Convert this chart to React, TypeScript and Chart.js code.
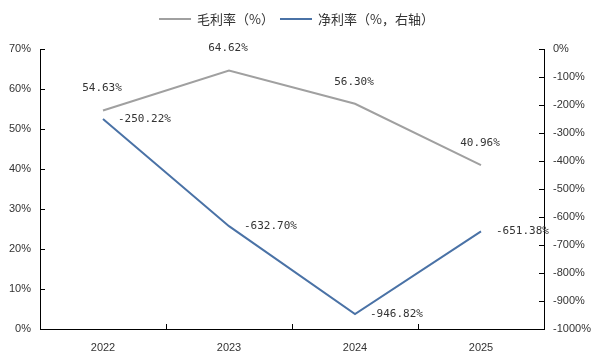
import React, { useEffect, useRef } from "react";
import { Chart, registerables } from "chart.js";

Chart.register(...registerables);

const categories = ["2022", "2023", "2024", "2025"];
const grossMargin = [54.63, 64.62, 56.3, 40.96];
const netMargin = [-250.22, -632.7, -946.82, -651.38];
const seriesNames = ["毛利率（%）", "净利率（%，右轴）"];
const seriesColors = ["#a0a0a0", "#4a72a6"];

const tickFont = { family: "'Liberation Sans', Arial, sans-serif", size: 11 };
const labelFontCss = "11px 'DejaVu Sans Mono', monospace";
const legendFontCss = "13px 'Noto Sans CJK SC', sans-serif";

const inwardTicks = {
  id: "inwardTicks",
  afterDraw(chart: any) {
    const ctx = chart.ctx;
    const { left, right, bottom } = chart.chartArea;
    ctx.save();
    ctx.strokeStyle = "#000";
    ctx.lineWidth = 1;
    ctx.beginPath();
    const y = chart.scales.y;
    y.ticks.forEach((_: any, i: number) => {
      const p = Math.round(y.getPixelForTick(i)) + 0.5;
      ctx.moveTo(left, p);
      ctx.lineTo(left + 5, p);
    });
    const y1 = chart.scales.y1;
    y1.ticks.forEach((_: any, i: number) => {
      const p = Math.round(y1.getPixelForTick(i)) + 0.5;
      ctx.moveTo(right, p);
      ctx.lineTo(right - 5, p);
    });
    const x = chart.scales.x;
    for (let i = 1; i < categories.length; i++) {
      const p = Math.round((x.getPixelForValue(i - 1) + x.getPixelForValue(i)) / 2) + 0.5;
      ctx.moveTo(p, bottom);
      ctx.lineTo(p, bottom - 5);
    }
    ctx.stroke();
    ctx.restore();
  },
};

const dataLabels = {
  id: "dataLabels",
  afterDatasetsDraw(chart: any) {
    const ctx = chart.ctx;
    ctx.save();
    ctx.font = labelFontCss;
    ctx.fillStyle = "#333";
    ctx.textBaseline = "middle";
    chart.data.datasets.forEach((ds: any, di: number) => {
      const meta = chart.getDatasetMeta(di);
      meta.data.forEach((pt: any, i: number) => {
        const v = ds.data[i] as number;
        const txt = v.toFixed(2) + "%";
        if (di === 0) {
          ctx.textAlign = "center";
          ctx.fillText(txt, pt.x - 1, pt.y - 22);
        } else {
          ctx.textAlign = "left";
          ctx.fillText(txt, pt.x + 15, pt.y);
        }
      });
    });
    ctx.restore();
  },
};

const customLegend = {
  id: "customLegend",
  afterDraw(chart: any) {
    const ctx = chart.ctx;
    ctx.save();
    ctx.font = legendFontCss;
    const lineW = 32;
    const gapText = 6;
    const gapItem = 6;
    const widths = chart.data.datasets.map(
      (ds: any) => lineW + gapText + ctx.measureText(ds.label).width
    );
    const total = widths.reduce((a: number, b: number) => a + b, 0) + gapItem * (widths.length - 1);
    let x = chart.width / 2 - total / 2;
    const y = 19;
    chart.data.datasets.forEach((ds: any, i: number) => {
      ctx.strokeStyle = ds.borderColor;
      ctx.lineWidth = 2;
      ctx.beginPath();
      ctx.moveTo(x, y);
      ctx.lineTo(x + lineW, y);
      ctx.stroke();
      ctx.fillStyle = "#333";
      ctx.textAlign = "left";
      ctx.textBaseline = "middle";
      ctx.fillText(ds.label, x + lineW + gapText, y);
      x += widths[i] + gapItem;
    });
    ctx.restore();
  },
};

export default function App() {
  const ref = useRef<HTMLCanvasElement>(null);
  useEffect(() => {
    document.body.style.margin = "0";
    const chart = new Chart(ref.current!, {
      type: "line",
      data: {
        labels: categories,
        datasets: [
          {
            label: seriesNames[0],
            data: grossMargin,
            borderColor: seriesColors[0],
            backgroundColor: seriesColors[0],
            borderWidth: 2,
            pointRadius: 0,
            yAxisID: "y",
            tension: 0,
          },
          {
            label: seriesNames[1],
            data: netMargin,
            borderColor: seriesColors[1],
            backgroundColor: seriesColors[1],
            borderWidth: 2,
            pointRadius: 0,
            yAxisID: "y1",
            tension: 0,
          },
        ],
      },
      options: {
        responsive: false,
        animation: false,
        layout: { padding: { top: 49, left: 0, right: 0, bottom: 0 } },
        plugins: { legend: { display: false }, tooltip: { enabled: false } },
        scales: {
          x: {
            offset: true,
            grid: { display: false, drawTicks: false },
            border: { display: true, color: "#000", width: 1 },
            ticks: { font: tickFont, color: "#333", padding: 12 },
            afterFit: (s: any) => {
              s.height = 23;
            },
          },
          y: {
            position: "left",
            min: 0,
            max: 70,
            grid: { display: false, drawTicks: false },
            border: { display: true, color: "#000", width: 1 },
            ticks: {
              stepSize: 10,
              font: tickFont,
              color: "#333",
              padding: 9,
              callback: (v: any) => v + "%",
            },
            afterFit: (s: any) => {
              s.width = 40;
            },
          },
          y1: {
            position: "right",
            min: -1000,
            max: 0,
            grid: { display: false, drawTicks: false },
            border: { display: true, color: "#000", width: 1 },
            ticks: {
              stepSize: 100,
              font: tickFont,
              color: "#333",
              padding: 9,
              callback: (v: any) => v + "%",
            },
            afterFit: (s: any) => {
              s.width = 49;
            },
          },
        },
      },
      plugins: [inwardTicks, dataLabels, customLegend],
    });
    return () => chart.destroy();
  }, []);
  return (
    <div style={{ width: 593, height: 352 }}>
      <canvas ref={ref} width={593} height={352} style={{ display: "block" }} />
    </div>
  );
}
